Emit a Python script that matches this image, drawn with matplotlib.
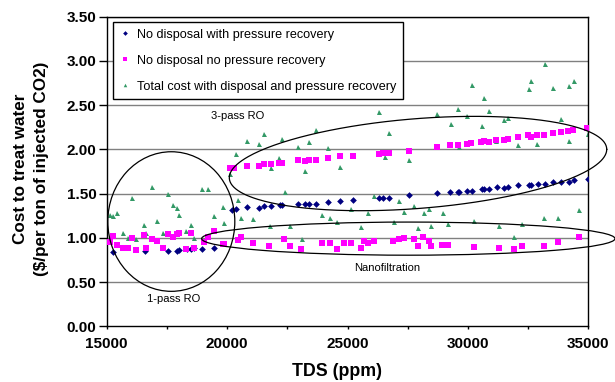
import matplotlib
matplotlib.use('Agg')
import numpy as np
import matplotlib.pyplot as plt
from matplotlib.patches import Ellipse

plt.rcParams['font.family'] = ['Liberation Sans', 'DejaVu Sans']

# no disposal with pressure recovery
tds_nd_pr = [15277, 16592, 17560, 17934, 18017, 18322, 18488, 18626, 18972, 19456,
             20190, 20356, 20841, 21339, 21532, 21823, 22197, 22266, 22930, 23235,
             23401, 23691, 24176, 24688, 25214, 26307, 26487, 26722, 27566, 28702,
             29256, 29574, 29643, 29948, 30156, 30571, 30681, 30875, 31194, 31512,
             31678, 32093, 32536, 32619, 32896, 33200, 33519, 33865, 34211, 34404,
             34972]
cost_nd_pr = [0.84, 0.85, 0.85, 0.857, 0.86, 0.87, 0.875, 0.89, 0.875, 0.887,
              1.32, 1.33, 1.35, 1.34, 1.36, 1.36, 1.37, 1.37, 1.385, 1.385,
              1.385, 1.385, 1.41, 1.42, 1.43, 1.45, 1.45, 1.45, 1.48, 1.51,
              1.52, 1.52, 1.52, 1.53, 1.535, 1.55, 1.555, 1.55, 1.57, 1.565,
              1.57, 1.60, 1.60, 1.60, 1.61, 1.61, 1.63, 1.635, 1.635, 1.65,
              1.67]

# no disposal no pressure recovery
tds_nd_npr = [15138, 15277, 15443, 15692, 15872, 16066, 16218, 16564, 16633, 16896,
              17104, 17353, 17560, 17768, 17906, 18003, 18294, 18488, 18626, 19041,
              19221, 19456, 19816, 19886, 20135, 20287, 20453, 20578, 20813, 21062,
              21339, 21532, 21754, 21823, 22155, 22266, 22377, 22612, 22930, 23069,
              23235, 23401, 23691, 23954, 24176, 24273, 24577, 24688, 24868, 25131,
              25214, 25546, 25698, 25837, 26099, 26307, 26487, 26722, 26902, 27151,
              27359, 27566, 27774, 27940, 28149, 28398, 28467, 28702, 28938, 29159,
              29256, 29574, 29948, 30128, 30266, 30543, 30681, 30875, 31166, 31290,
              31498, 31650, 31913, 32066, 32259, 32508, 32605, 32854, 33173, 33173,
              33519, 33726, 33851, 34169, 34377, 34626, 34958]
cost_nd_npr = [0.95, 1.02, 0.92, 0.89, 0.89, 1.00, 0.86, 1.03, 0.89, 0.99,
               0.96, 0.89, 1.04, 1.01, 1.04, 1.06, 0.87, 1.06, 0.89, 0.95,
               1.01, 1.08, 0.93, 0.93, 1.79, 1.79, 0.98, 1.01, 1.81, 0.94,
               1.81, 1.83, 0.91, 1.84, 1.85, 1.85, 0.99, 0.905, 1.875, 0.87,
               1.87, 1.88, 1.88, 0.94, 1.90, 0.94, 0.88, 1.92, 0.94, 0.94,
               1.92, 0.89, 0.96, 0.94, 0.96, 1.95, 1.96, 1.96, 0.96, 0.99,
               1.00, 1.98, 0.99, 0.91, 1.01, 0.96, 0.91, 2.03, 0.92, 0.92,
               2.05, 2.05, 2.06, 2.07, 0.90, 2.08, 2.09, 2.08, 2.11, 0.89,
               2.11, 2.12, 0.875, 2.14, 0.91, 2.16, 2.14, 2.16, 2.16, 0.91,
               2.19, 0.955, 2.20, 2.21, 2.215, 1.01, 2.24]

# total cost with disposal and pressure recovery
tds_total = [15138, 15277, 15443, 15692, 15872, 16066, 16218, 16564, 16633, 16896,
             17104, 17353, 17560, 17768, 17906, 18003, 18294, 18488, 18626, 18972,
             19221, 19456, 19816, 19886, 20135, 20356, 20453, 20578, 20813, 21062,
             21339, 21532, 21781, 21823, 22169, 22266, 22404, 22612, 22930, 23096,
             23235, 23401, 23691, 23954, 24176, 24273, 24577, 24688, 25131, 25214,
             25546, 25837, 26099, 26307, 26556, 26722, 26944, 27151, 27359, 27566,
             27775, 27940, 28176, 28398, 28467, 28730, 28951, 29159, 29284, 29574,
             29629, 29948, 30156, 30266, 30571, 30681, 30889, 31166, 31290, 31512,
             31678, 31913, 32093, 32259, 32536, 32619, 32882, 33173, 33200, 33519,
             33726, 33851, 34197, 34211, 34404, 34626, 34972]
cost_total = [1.26, 1.245, 1.28, 1.06, 1.00, 1.45, 0.99, 1.15, 1.06, 1.57,
              1.19, 1.05, 1.50, 1.37, 1.34, 1.26, 1.08, 1.15, 1.00, 1.55,
              1.55, 1.25, 1.35, 1.17, 1.72, 1.95, 1.43, 1.23, 2.09, 1.21,
              2.06, 2.17, 1.13, 1.79, 1.90, 2.12, 1.52, 1.14, 2.03, 0.99,
              1.75, 2.08, 2.22, 1.26, 2.01, 1.22, 1.18, 1.80, 1.33, 1.94,
              1.12, 1.28, 1.47, 2.42, 1.91, 2.18, 1.18, 1.42, 1.29, 1.88,
              1.36, 1.11, 1.28, 1.33, 1.13, 2.40, 1.28, 1.16, 2.29, 2.46,
              2.03, 2.38, 2.73, 1.19, 2.26, 2.58, 2.43, 2.09, 1.14, 2.33,
              2.35, 1.01, 2.045, 1.16, 2.68, 2.77, 2.06, 1.22, 2.96, 2.69,
              1.22, 2.34, 2.09, 2.72, 2.77, 1.31, 2.17]

fig = plt.figure(figsize=(6.15, 3.82), dpi=100)
ax = fig.add_axes([0.1735, 0.1453, 0.7831, 0.8115])

for y in np.arange(0.5, 3.51, 0.5):
    ax.axhline(y, color='#808080', lw=1.0, zorder=0)

ax.plot(tds_nd_pr, cost_nd_pr, 'D', color='#000080', ms=3.4, mew=0,
        label='No disposal with pressure recovery', zorder=3)
ax.plot(tds_nd_npr, cost_nd_npr, 's', color='#FF00FF', ms=4.1, mew=0,
        label='No disposal no pressure recovery', zorder=3)
ax.plot(tds_total, cost_total, '^', color='#339966', ms=3.6, mew=0,
        label='Total cost with disposal and pressure recovery', zorder=2)

# circled groups
ax.add_patch(Ellipse((17683, 1.185), 5274, 1.576, fill=False, ec='black',
                     lw=0.9, clip_on=False, zorder=4))
ax.add_patch(Ellipse((27525, 0.992), 17164, 0.374, fill=False, ec='black',
                     lw=0.9, clip_on=False, zorder=4))
t = np.linspace(0, 2 * np.pi, 300)
cx, cy, A, s, B = 27928, 1.84, 7837, 0.16, 0.508
ax.plot(cx + A * np.cos(t), cy + s * np.cos(t) + B * np.sin(t), color='black',
        lw=0.9, clip_on=False, zorder=4)

ax.text(20450, 2.38, '3-pass RO', fontsize=8, ha='center', va='center')
ax.text(26640, 0.66, 'Nanofiltration', fontsize=8, ha='center', va='center')
ax.text(17760, 0.31, '1-pass RO', fontsize=8, ha='center', va='center')

ax.set_xlim(15000, 35000)
ax.set_ylim(0, 3.5)
ax.set_xticks([15000, 20000, 25000, 30000, 35000])
ax.set_xticks([17500, 22500, 27500, 32500], minor=True)
ax.set_yticks(np.arange(0, 3.51, 0.5))
ax.set_yticklabels(['%.2f' % v for v in np.arange(0, 3.51, 0.5)])
ax.tick_params(axis='x', which='both', direction='out', length=2.5, width=1,
               labelsize=11, pad=5)
ax.tick_params(axis='y', which='major', direction='out', length=6, width=1,
               labelsize=11, pad=1.5)
for lbl in ax.get_xticklabels() + ax.get_yticklabels():
    lbl.set_fontweight('bold')
for sp in ax.spines.values():
    sp.set_linewidth(1.0)

fig.text(337 / 615, 1 - 371.5 / 382, 'TDS (ppm)', fontsize=12.8,
         fontweight='bold', ha='center', va='center')
fig.text(31.5 / 615, 1 - 169 / 382,
         'Cost to treat water\n($/per ton of injected CO2)', fontsize=12.3,
         fontweight='bold', ha='center', va='center', rotation=90,
         multialignment='center', linespacing=1.5)

leg = ax.legend(loc='upper left', bbox_to_anchor=(0.0137, 0.983), fontsize=9.1,
                frameon=True, fancybox=False, edgecolor='black', framealpha=1,
                markerscale=0.7, handlelength=0.8, handletextpad=0.5,
                labelspacing=1.1, borderpad=0.55, borderaxespad=0)
leg.get_frame().set_linewidth(1.0)

fig.savefig('out.png', dpi=100)
